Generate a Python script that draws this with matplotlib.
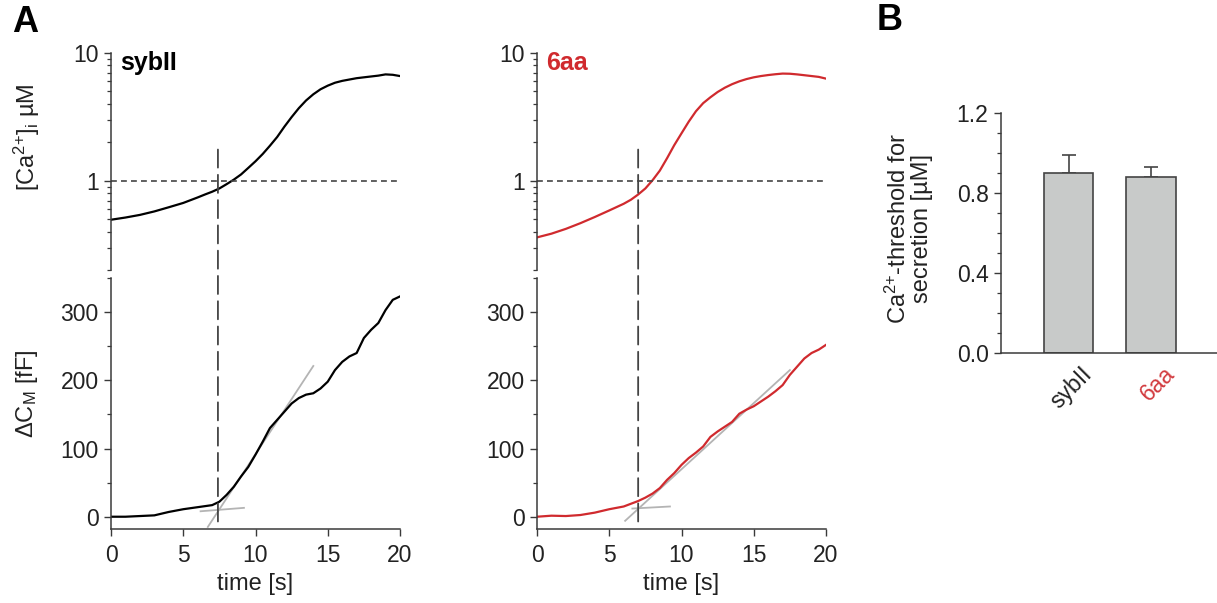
import numpy as np
import matplotlib
matplotlib.use("Agg")
import matplotlib.pyplot as plt
import matplotlib.transforms as mtransforms
from matplotlib.patches import ConnectionPatch
from matplotlib.ticker import LogLocator, NullFormatter, FixedLocator, FixedFormatter, MultipleLocator

plt.rcParams['font.family'] = ['Liberation Sans', 'DejaVu Sans']
plt.rcParams['mathtext.fontset'] = 'custom'
plt.rcParams['mathtext.rm'] = 'Liberation Sans'
plt.rcParams['mathtext.it'] = 'Liberation Sans:italic'
plt.rcParams['mathtext.bf'] = 'Liberation Sans:bold'
plt.rcParams['mathtext.default'] = 'regular'

RED = '#d02a2e'
DARK = '#3a3a3a'
TXT = '#222222'
FS_TICK = 16.5
FS_LAB = 17

# ---- data ----
t_ca = [0, 1, 2, 3, 4, 5, 6, 6.5, 7, 7.5, 8, 8.5, 9, 9.5, 10, 10.5, 11, 11.5, 12, 12.5,
        13, 13.5, 14, 14.5, 15, 15.5, 16, 16.5, 17, 17.5, 18, 18.5, 19, 19.5, 20]
ca_syb = [0.495, 0.515, 0.54, 0.575, 0.62, 0.67, 0.74, 0.78, 0.82, 0.87, 0.94, 1.02, 1.12,
          1.26, 1.42, 1.62, 1.88, 2.2, 2.65, 3.15, 3.7, 4.25, 4.75, 5.2, 5.55, 5.85, 6.05,
          6.2, 6.35, 6.45, 6.55, 6.65, 6.8, 6.75, 6.6]
ca_6aa = [0.36, 0.385, 0.42, 0.465, 0.52, 0.585, 0.66, 0.71, 0.78, 0.87, 1.01, 1.2, 1.5,
          1.9, 2.35, 2.9, 3.5, 4.05, 4.5, 4.95, 5.35, 5.7, 6.0, 6.25, 6.45, 6.6, 6.72,
          6.82, 6.9, 6.88, 6.8, 6.7, 6.6, 6.5, 6.3]

t_cm = [0, 1, 2, 3, 4, 5, 6, 7, 7.5, 8, 8.5, 9, 9.5, 10, 10.5, 11, 11.5, 12, 12.5,
        13, 13.5, 14, 14.5, 15, 15.5, 16, 16.5, 17, 17.5, 18, 18.5, 19, 19.5, 20]
cm_syb = [0, 0, 1, 2, 7, 11, 14, 17, 22, 32, 44, 59, 73, 91, 110, 130, 142, 154, 166,
          174, 179, 181, 188, 198, 215, 227, 235, 240, 262, 274, 284, 303, 318, 323]
cm_6aa = [0, 1.5, 1, 2.5, 6, 11, 15, 23, 28, 34, 42, 54, 64, 76, 86, 94, 103, 117, 125,
          132, 139, 151, 157, 162, 169, 176, 184, 193, 208, 220, 232, 240, 245, 252]

# threshold times (vertical dashed lines)
t_thr = {'sybII': 7.4, '6aa': 7.0}
# fitted gray lines: (t0, y0, t1, y1)
fit_base = {'sybII': (6.2, 8, 9.2, 13), '6aa': (6.6, 12, 9.2, 15)}
fit_rise = {'sybII': (6.7, -15, 14.0, 221), '6aa': (6.1, -6, 17.5, 215)}

# panel B
groups = ['sybII', '6aa']
thr_mean = [0.90, 0.88]
thr_err = [0.09, 0.05]

fig = plt.figure(figsize=(12.17, 6.03), dpi=100)
W, H = 1217, 603


def px_axes(x0, y0, x1, y1):
    return fig.add_axes([x0 / W, 1 - y1 / H, (x1 - x0) / W, (y1 - y0) / H])


def style_common(ax):
    for s in ['top', 'right']:
        ax.spines[s].set_visible(False)
    for s in ['left', 'bottom']:
        ax.spines[s].set_color(DARK)
        ax.spines[s].set_linewidth(1.1)
    ax.tick_params(which='major', direction='out', length=5, width=1.0, color=DARK,
                   labelcolor=TXT, labelsize=FS_TICK, pad=4)
    ax.tick_params(which='minor', direction='out', length=3, width=0.9, color=DARK)
    ax.patch.set_alpha(0)


panels = [
    ('sybII', 111, 'k', ca_syb, cm_syb),
    ('6aa', 537, RED, ca_6aa, cm_6aa),
]

for name, x0, col, ca, cm in panels:
    ax_t = px_axes(x0, 53, x0 + 289, 270)
    ax_b = px_axes(x0, 278, x0 + 289, 529)
    style_common(ax_t)
    style_common(ax_b)

    # calcium trace
    ax_t.plot(t_ca, ca, color=col, lw=1.6)
    ax_t.set_yscale('log')
    ax_t.set_ylim(0.2, 10)
    ax_t.set_xlim(0, 20)
    ax_t.spines['bottom'].set_visible(False)
    ax_t.set_xticks([])
    ax_t.yaxis.set_major_locator(FixedLocator([1, 10]))
    ax_t.yaxis.set_major_formatter(FixedFormatter(['1', '10']))
    ax_t.yaxis.set_minor_locator(LogLocator(base=10, subs=np.arange(2, 10)))
    ax_t.yaxis.set_minor_formatter(NullFormatter())
    ax_t.axhline(1, color='#444444', lw=1.2, ls=(0, (3.5, 2.5)))

    # capacitance trace
    tb = fit_base[name]
    tr = fit_rise[name]
    ax_b.plot([tb[0], tb[2]], [tb[1], tb[3]], color='#b4b4b4', lw=1.3, zorder=1)
    ax_b.plot([tr[0], tr[2]], [tr[1], tr[3]], color='#b4b4b4', lw=1.3, zorder=1)
    ax_b.plot(t_cm, cm, color=col, lw=1.6, zorder=2)
    ax_b.set_xlim(0, 20)
    ax_b.set_ylim(-18, 350)
    ax_b.set_xticks([0, 5, 10, 15, 20])
    ax_b.set_yticks([0, 100, 200, 300])
    ax_b.yaxis.set_minor_locator(MultipleLocator(50))
    ax_b.tick_params(axis='x', pad=6)
    ax_b.set_xlabel('time [s]', fontsize=FS_LAB, labelpad=4, color=TXT)

    # threshold line spanning both axes
    con = ConnectionPatch(xyA=(t_thr[name], -7), coordsA=ax_b.transData,
                          xyB=(t_thr[name], 1.9), coordsB=ax_t.transData,
                          color='#444444', lw=1.3, ls=(0, (10, 4)))
    fig.add_artist(con)

    fig.text((x0 + 9) / W, 1 - 63 / H, name, color=col, fontsize=18,
             fontweight='bold', va='center', ha='left')

    if name == 'sybII':
        ax_t.set_ylabel('[Ca$^{2{+}}$]$_i$ µM', fontsize=FS_LAB, color=TXT)
        ax_t.yaxis.set_label_coords(-0.24, 0.61)
        ax_b.set_ylabel('ΔC$_M$ [fF]', fontsize=FS_LAB, color=TXT)
        ax_b.yaxis.set_label_coords(-0.245, 0.54)

# ---- panel B ----
ax_c = px_axes(1001, 113, 1217, 353)
style_common(ax_c)
x = np.arange(len(groups))
ax_c.bar(x, thr_mean, width=0.6, color='#c8cac9', edgecolor='#444444', lw=1.2, zorder=2)
ax_c.errorbar(x, thr_mean, yerr=[[0] * len(groups), thr_err], fmt='none',
              ecolor='#444444', elinewidth=1.2, capsize=5, capthick=1.2, zorder=1)
ax_c.set_xlim(-0.82, 1.8)
ax_c.set_ylim(0, 1.2)
ax_c.set_yticks([0.0, 0.4, 0.8, 1.2])
ax_c.set_yticklabels(['0.0', '0.4', '0.8', '1.2'])
ax_c.yaxis.set_minor_locator(MultipleLocator(0.1))
ax_c.set_xticks(x)
ax_c.set_xticklabels(groups, rotation=45, ha='right', rotation_mode='anchor')
ax_c.tick_params(axis='x', length=0, pad=7)
shift = mtransforms.ScaledTranslation(12 / 100, 0, fig.dpi_scale_trans)
for lab, c in zip(ax_c.get_xticklabels(), [TXT, '#d23a3e']):
    lab.set_color(c)
    lab.set_transform(lab.get_transform() + shift)
ax_c.set_ylabel('Ca$^{2{+}}$-threshold for\nsecretion [µM]', fontsize=FS_LAB,
                color=TXT, linespacing=1.0)
ax_c.yaxis.set_label_coords(-0.315, 0.52)

fig.text(12 / W, 1 - 23 / H, 'A', fontsize=26, fontweight='bold', va='center', ha='left')
fig.text(877 / W, 1 - 21 / H, 'B', fontsize=26, fontweight='bold', va='center', ha='left')

fig.savefig('out.png', dpi=100)
